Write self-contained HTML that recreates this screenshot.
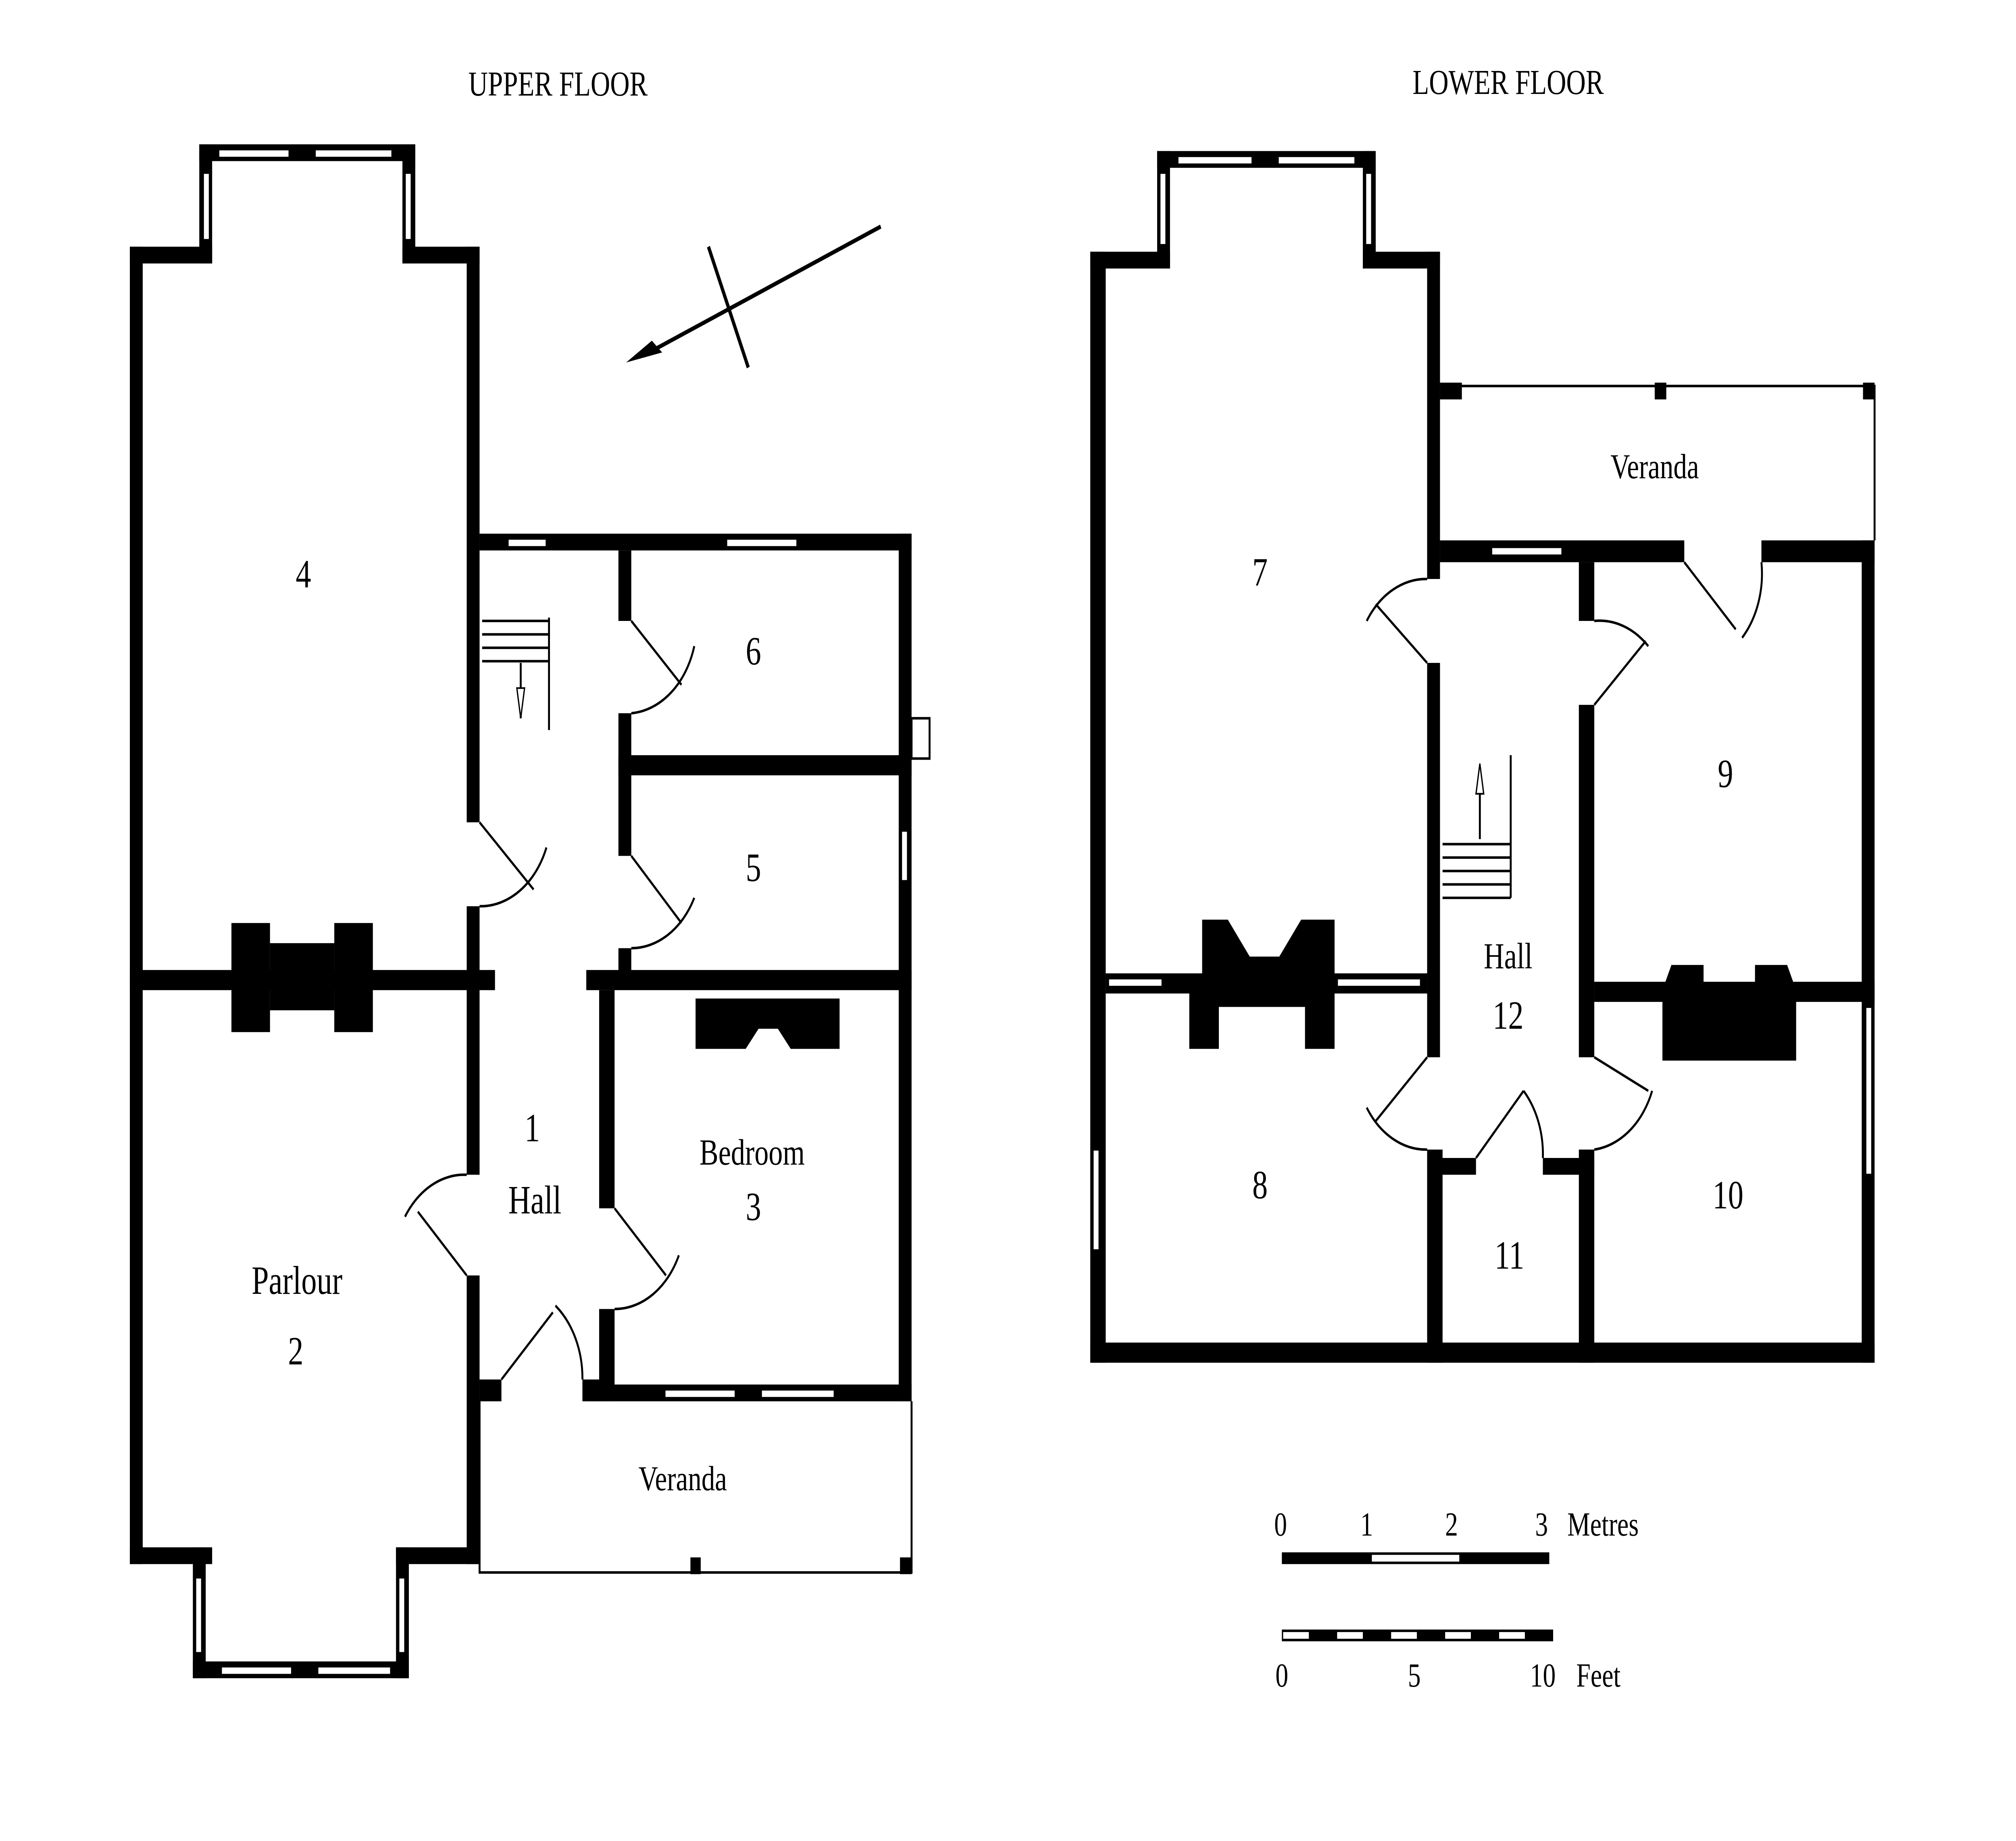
<!DOCTYPE html>
<html><head><style>html,body{margin:0;padding:0;background:#fff;overflow:hidden;width:100%;height:100%}svg{display:block;width:100vw;height:100vh}</style></head>
<body>
<svg viewBox="0 0 1568 1097" preserveAspectRatio="none" xmlns="http://www.w3.org/2000/svg" font-family="Liberation Serif, serif">
<rect width="1568" height="1097" fill="#fff"/>
<g fill="#000">
<text x="434" y="57" font-size="21" text-anchor="middle">UPPER FLOOR</text>
<text x="1173" y="56" font-size="21" text-anchor="middle">LOWER FLOOR</text>
<rect x="101" y="147" width="64" height="10"/>
<rect x="155" y="86" width="10" height="71"/>
<rect x="155" y="86" width="168" height="10"/>
<rect x="313" y="86" width="10" height="71"/>
<rect x="313" y="147" width="60" height="10"/>
<rect x="101" y="147" width="10" height="785"/>
<rect x="363" y="147" width="10" height="343"/>
<rect x="363" y="540" width="10" height="160"/>
<rect x="363" y="760" width="10" height="172"/>
<rect x="101" y="578" width="284" height="12"/>
<rect x="180" y="550" width="30" height="65"/><rect x="210" y="562" width="50" height="40"/><rect x="260" y="550" width="30" height="65"/>
<rect x="101" y="922" width="64" height="10"/>
<rect x="150" y="922" width="10" height="78"/>
<rect x="150" y="990" width="168" height="10"/>
<rect x="308" y="922" width="10" height="78"/>
<rect x="308" y="922" width="65" height="10"/>
<rect x="373" y="318" width="336" height="10"/>
<rect x="481" y="328" width="10" height="42"/>
<rect x="481" y="425" width="10" height="85"/>
<rect x="481" y="565" width="10" height="20"/>
<rect x="699" y="318" width="10" height="517"/>
<rect x="481" y="450" width="228" height="12"/>
<rect x="456" y="578" width="253" height="12"/>
<rect x="466" y="590" width="12" height="130"/>
<rect x="466" y="780" width="12" height="55"/>
<rect x="455" y="825" width="254" height="10"/>
<rect x="373" y="822" width="17" height="13"/>
<rect x="453" y="822" width="13" height="13"/>
<path d="M541 595 H653 V625 H615 L605 613 L590 613 L580 625 H541 Z"/>
<rect x="537" y="928" width="8" height="10"/>
<rect x="700" y="928" width="9" height="10"/>
<rect x="848" y="150" width="62" height="10"/>
<rect x="900" y="90" width="10" height="70"/>
<rect x="900" y="90" width="170" height="10"/>
<rect x="1060" y="90" width="10" height="70"/>
<rect x="1060" y="150" width="60" height="10"/>
<rect x="848" y="150" width="12" height="662"/>
<rect x="1110" y="150" width="10" height="195"/>
<rect x="1110" y="395" width="10" height="235"/>
<rect x="1110" y="685" width="12" height="127"/>
<rect x="1120" y="322" width="190" height="13"/>
<rect x="1370" y="322" width="88" height="13"/>
<rect x="1448" y="322" width="10" height="490"/>
<rect x="1228" y="335" width="12" height="35"/>
<rect x="1228" y="420" width="12" height="210"/>
<rect x="1228" y="685" width="12" height="127"/>
<rect x="860" y="580" width="250" height="12"/>
<rect x="1240" y="585" width="218" height="12"/>
<rect x="848" y="800" width="610" height="12"/>
<rect x="1110" y="690" width="38" height="10"/>
<rect x="1200" y="690" width="40" height="10"/>
<path d="M935 548 L955 548 L972 570 L995 570 L1012 548 L1038 548 L1038 625 L1015 625 L1015 600 L948 600 L948 625 L925 625 L925 592 L935 592 Z"/>
<path d="M1300 575 L1325 575 L1325 590 L1365 590 L1365 575 L1390 575 L1397 590 L1397 632 L1293 632 L1293 590 Z"/>
<rect x="1120" y="228" width="17" height="10"/><rect x="1287" y="228" width="9" height="10"/><rect x="1449" y="228" width="9" height="10"/>
</g>
<g fill="#fff" stroke="#000" stroke-width="1.2">
<rect x="170" y="89" width="55" height="5"/><rect x="245" y="89" width="60" height="5"/>
<rect x="158" y="103" width="5" height="40"/><rect x="315" y="103" width="5" height="40"/>
<rect x="172" y="993" width="55" height="5"/><rect x="247" y="993" width="57" height="5"/>
<rect x="152" y="940" width="5" height="45"/><rect x="310" y="940" width="5" height="45"/>
<rect x="395" y="321" width="30" height="5"/><rect x="565" y="321" width="55" height="5"/>
<rect x="701" y="495" width="5" height="30"/>
<rect x="517" y="828" width="55" height="5"/><rect x="592" y="828" width="57" height="5"/>
<rect x="916" y="93" width="58" height="5"/><rect x="994" y="93" width="60" height="5"/>
<rect x="902" y="103" width="5" height="43"/><rect x="1062" y="103" width="5" height="43"/>
<rect x="1160" y="326" width="55" height="5"/>
<rect x="862" y="583" width="42" height="5"/><rect x="1040" y="583" width="65" height="5"/>
<rect x="850" y="685" width="5" height="60"/>
<rect x="1451" y="600" width="5" height="100"/>
</g>
<g fill="none" stroke="#000" stroke-width="1.5">
<path d="M373 835 V937 H709 V835"/>
<path d="M1120 230 H1458 V322"/>
<rect x="709" y="428" width="14" height="24"/>
<path d="M373 490 L415 530"/><path d="M373 540 A55 55 0 0 0 425 505"/>
<path d="M491 370 L530 408"/><path d="M491 425 A55 55 0 0 0 540 385"/>
<path d="M491 510 L530 550"/><path d="M491 565 A55 55 0 0 0 540 535"/>
<path d="M363 760 L325 722"/><path d="M363 700 A55 55 0 0 0 315 725"/>
<path d="M478 720 L518 760"/><path d="M478 780 A55 55 0 0 0 528 748"/>
<path d="M390 822 L430 782"/><path d="M453 822 A55 55 0 0 0 432 778"/>
<path d="M1110 395 L1070 360"/><path d="M1110 345 A55 55 0 0 0 1063 370"/>
<path d="M1240 420 L1280 382"/><path d="M1240 370 A55 55 0 0 1 1282 385"/>
<path d="M1310 335 L1350 375"/><path d="M1370 335 A55 55 0 0 1 1355 380"/>
<path d="M1110 630 L1070 668"/><path d="M1110 685 A55 55 0 0 1 1063 660"/>
<path d="M1240 630 L1282 650"/><path d="M1240 685 A55 55 0 0 0 1285 650"/>
<path d="M1148 690 L1185 650"/><path d="M1200 690 A55 55 0 0 0 1185 650"/>
<path d="M375 370 H427 M375 378 H427 M375 386 H427 M375 394 H427 M427 368 V435 M405 395 V428"/>
<path d="M1122 535 H1175 M1122 527 H1175 M1122 519 H1175 M1122 511 H1175 M1122 503 H1175 M1175 450 V535 M1151 500 V460"/>
<path d="M685 135 L500 212" stroke-width="2.5"/><path d="M551 147 L582 219" stroke-width="2.5"/>
</g>
<path d="M402 410 L405 428 L408 410 Z M1148 473 L1151 455 L1154 473 Z" fill="#fff" stroke="#000"/>
<path d="M487 216 L507 203 L515 210 Z" fill="#000"/>
<g font-size="24" text-anchor="middle" fill="#000">
<text x="236" y="350">4</text><text x="586" y="396">6</text><text x="586" y="525">5</text>
<text x="414" y="680">1</text><text x="416" y="723">Hall</text>
<text x="585" y="694" font-size="22">Bedroom</text><text x="586" y="727">3</text>
<text x="231" y="771">Parlour</text><text x="230" y="813">2</text>
<text x="531" y="888" font-size="21">Veranda</text>
<text x="1287" y="285" font-size="21">Veranda</text>
<text x="980" y="349">7</text><text x="1342" y="469">9</text>
<text x="1173" y="577" font-size="22">Hall</text><text x="1173" y="613">12</text>
<text x="980" y="714">8</text><text x="1174" y="756">11</text><text x="1344" y="720">10</text>
</g>
<g font-size="20" fill="#000">
<text x="991" y="915">0</text><text x="1058" y="915">1</text><text x="1124" y="915">2</text><text x="1194" y="915">3</text><text x="1219" y="915">Metres</text>
<text x="992" y="1005">0</text><text x="1095" y="1005">5</text><text x="1190" y="1005">10</text><text x="1226" y="1005">Feet</text>
</g>
<rect x="997" y="925" width="208" height="7" fill="#000"/>
<rect x="1067" y="926.5" width="68" height="4" fill="#fff"/>
<rect x="997" y="971" width="211" height="7" fill="#000"/>
<g fill="#fff"><rect x="998" y="972.5" width="20" height="4"/><rect x="1040" y="972.5" width="20" height="4"/><rect x="1082" y="972.5" width="20" height="4"/><rect x="1124" y="972.5" width="20" height="4"/><rect x="1166" y="972.5" width="20" height="4"/></g>
</svg>
</body></html>
